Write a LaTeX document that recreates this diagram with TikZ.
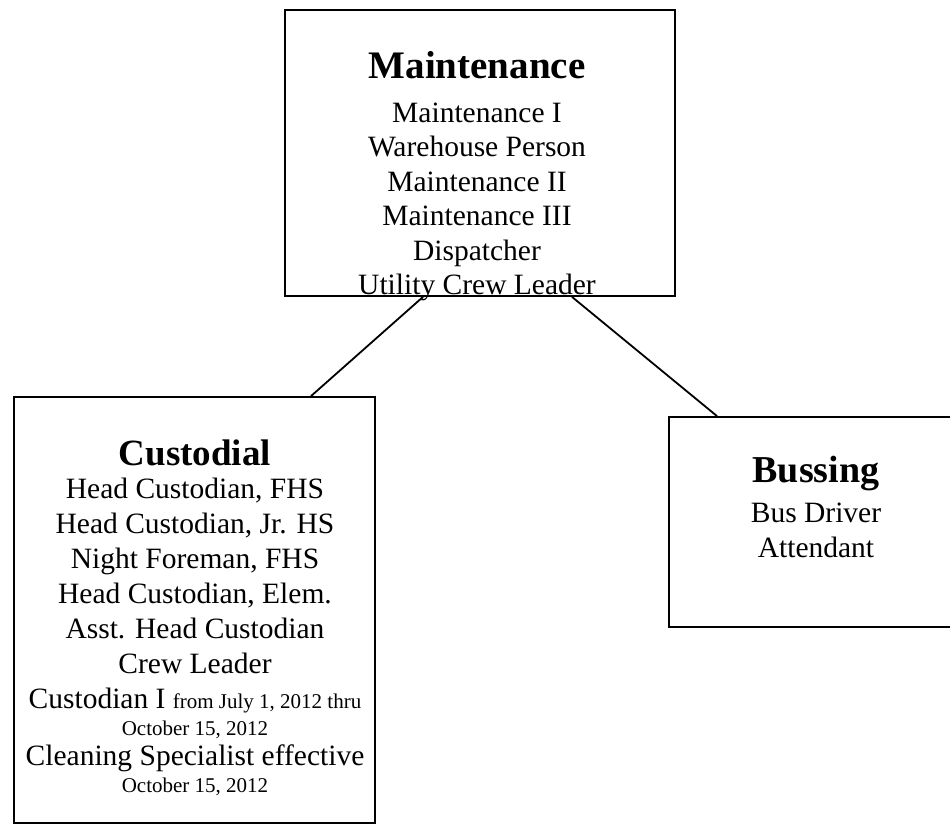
\documentclass[tikz,border=0pt]{standalone}
\usepackage{fontspec}
\setmainfont{Liberation Serif}
\begin{document}
\begin{tikzpicture}[x=1pt,y=-1pt,
  box/.style={draw=black,line width=1.8pt,rectangle,inner sep=0pt,fill=none},
  ttl/.style={anchor=base,inner sep=0pt,font=\fontsize{38}{42}\selectfont\bfseries},
  body/.style={anchor=base,inner sep=0pt,font=\fontsize{29.5}{34}\selectfont},
  small/.style={anchor=base,inner sep=0pt,font=\fontsize{21}{24}\selectfont},
  link/.style={draw=black,line width=1.8pt}]
\useasboundingbox (0,0) rectangle (950,827);
\clip (0,0) rectangle (950,827);
% boxes
\node[box,minimum width=390pt,minimum height=286pt] (maint) at (480,153) {};
\node[box,minimum width=361pt,minimum height=426pt] (cust) at (194.5,610) {};
\node[box,minimum width=290pt,minimum height=210pt] (buss) at (814,522) {};
% Maintenance text
\node[ttl,font=\fontsize{39}{42}\selectfont\bfseries] (mt) at (477,78) {Maintenance};
\node[body] (m1) at (477,122) {Maintenance I};
\node[body] (m2) at (477,156.5) {Warehouse Person};
\node[body] (m3) at (477,191) {Maintenance II};
\node[body] (m4) at (477,225.5) {Maintenance III};
\node[body] (m5) at (477,260) {Dispatcher};
\node[body] (m6) at (477,294.5) {Utility Crew Leader};
% Custodial text
\node[ttl,font=\fontsize{37}{42}\selectfont\bfseries] (ct) at (195,465) {Custodial};
\node[body] (c1) at (195,498) {Head Custodian, FHS};
\node[body] (c2) at (195,533) {Head Custodian, Jr. HS};
\node[body] (c3) at (195,568) {Night Foreman, FHS};
\node[body] (c4) at (195,603) {Head Custodian, Elem.};
\node[body] (c5) at (195,638) {Asst. Head Custodian};
\node[body] (c6) at (195,673) {Crew Leader};
\node[body] (c7) at (195,708) {Custodian I {\fontsize{21}{24}\selectfont from July 1, 2012 thru}};
\node[small] (c8) at (195,735) {October 15, 2012};
\node[body] (c9) at (195,765) {Cleaning Specialist effective};
\node[small] (c10) at (195,792) {October 15, 2012};
% Bussing text
\node[ttl] (bt) at (816,482) {Bussing};
\node[body] (b1) at (816,522) {Bus Driver};
\node[body] (b2) at (816,557) {Attendant};
% connector end points on the box borders
\coordinate (mL) at (maint.south -| 423,0);
\coordinate (cT) at (cust.north -| 311,0);
\coordinate (mR) at (maint.south -| 572,0);
\coordinate (bT) at (buss.north -| 717,0);
\draw[link] (mL) -- (cT);
\draw[link] (mR) -- (bT);
\end{tikzpicture}
\end{document}
